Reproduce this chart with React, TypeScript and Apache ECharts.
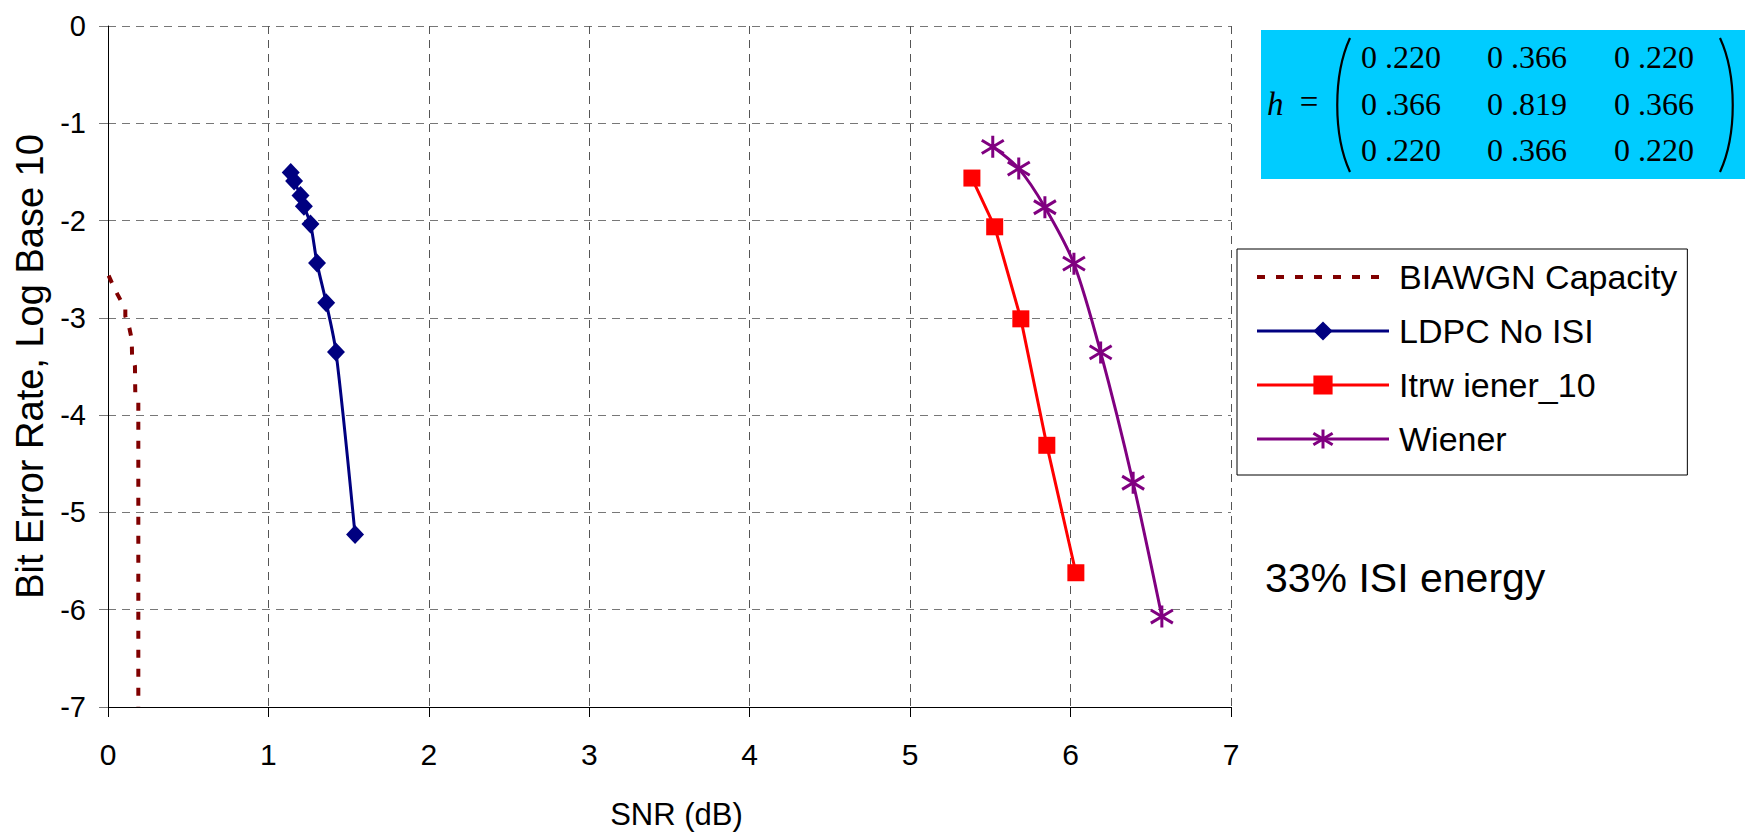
import React, { useEffect, useRef } from 'react';
import * as echarts from 'echarts';

// ---- data (SNR in dB, BER as log10) ----
const capacitySnr = [0.004, 0.029, 0.06, 0.087, 0.108, 0.108, 0.133, 0.148, 0.15, 0.168, 0.17, 0.189, 0.189];
const capacityBer = [-2.566, -2.658, -2.761, -2.846, -2.897, -2.983, -3.103, -3.222, -3.393, -3.496, -3.769, -3.872, -7];

const ldpcSnr = [1.139, 1.16, 1.2, 1.221, 1.262, 1.303, 1.36, 1.421, 1.54];
const ldpcBer = [-1.507, -1.594, -1.742, -1.852, -2.034, -2.437, -2.844, -3.35, -5.228];

const itrSnr = [5.385, 5.527, 5.69, 5.852, 6.033];
const itrBer = [-1.563, -2.064, -3.01, -4.31, -5.62];

const wienerSnr = [5.515, 5.677, 5.84, 6.021, 6.1875, 6.39, 6.569];
const wienerBer = [-1.242, -1.466, -1.863, -2.443, -3.355, -4.695, -6.07];

const seriesNames = ['BIAWGN Capacity', 'LDPC No ISI', 'Itrw iener_10', 'Wiener'];
const xTicks = { min: 0, max: 7, interval: 1 };
const yTicks = { min: -7, max: 0, interval: 1 };

const matrixRows = [
  ['0 .220', '0 .366', '0 .220'],
  ['0 .366', '0 .819', '0 .366'],
  ['0 .220', '0 .366', '0 .220'],
];
const noteText = '33% ISI energy';
const xTitle = 'SNR (dB)';
const yTitle = 'Bit Error Rate, Log Base 10';

const zip = (xs: number[], ys: number[]) => xs.map((x, i) => [x, ys[i]]);

const SANS = "'Liberation Sans', Arial, sans-serif";
const SERIF = "'Liberation Serif', 'Times New Roman', serif";
const STAR = 'path://M10,0L10,20M1,4L19,16M1,16L19,4';

export default function App() {
  const ref = useRef<HTMLDivElement>(null);
  useEffect(() => {
    if (!ref.current) return;
    const chart = echarts.init(ref.current, undefined, { renderer: 'svg' });

    const colX = [1401, 1527, 1654];
    const rowY = [57, 104, 150];
    const matrixTexts: any[] = [];
    matrixRows.forEach((row, r) =>
      row.forEach((t, c) =>
        matrixTexts.push({
          type: 'text',
          x: colX[c],
          y: rowY[r],
          z: 20,
          style: { text: t, font: `32px ${SERIF}`, fill: '#000', textAlign: 'center', textVerticalAlign: 'middle' },
        })
      )
    );

    chart.setOption({
      animation: false,
      backgroundColor: '#fff',
      textStyle: { fontFamily: SANS },
      grid: { left: 108, top: 26, right: 519, bottom: 131, containLabel: false },
      legend: {
        orient: 'vertical',
        left: 1237,
        top: 249,
        padding: [11, 10, 19, 18],
        itemWidth: 132,
        itemHeight: 24,
        itemGap: 20,
        borderColor: '#000',
        borderWidth: 1,
        backgroundColor: '#fff',
        lineStyle: { width: 3 },
        textStyle: { fontSize: 34, color: '#000', fontFamily: SANS, padding: [0, 0, 0, 5] },
        data: [
          {
            name: seriesNames[0],
            itemStyle: { color: 'rgba(0,0,0,0)', borderColor: 'rgba(0,0,0,0)', borderWidth: 0 },
            lineStyle: { width: 4 },
          },
          { name: seriesNames[1] },
          { name: seriesNames[2] },
          { name: seriesNames[3], itemStyle: { borderWidth: 3, borderColor: '#800080' } },
        ],
      },
      xAxis: {
        type: 'value',
        min: xTicks.min,
        max: xTicks.max,
        interval: xTicks.interval,
        name: xTitle,
        nameLocation: 'middle',
        nameGap: 92,
        nameTextStyle: { fontSize: 31, color: '#000', fontFamily: SANS, padding: [0, 0, 0, 14] },
        axisLine: { show: true, onZero: false, lineStyle: { color: '#000', width: 1 } },
        axisTick: { show: true, inside: false, length: 10, lineStyle: { color: '#000' } },
        axisLabel: { fontSize: 30, color: '#000', margin: 32, fontFamily: SANS },
        splitLine: { show: true, lineStyle: { color: '#555', type: [8, 6], width: 1 } },
      },
      yAxis: {
        type: 'value',
        min: yTicks.min,
        max: yTicks.max,
        interval: yTicks.interval,
        name: yTitle,
        nameLocation: 'middle',
        nameGap: 54,
        nameTextStyle: { fontSize: 38, color: '#000', fontFamily: SANS },
        axisLine: { show: true, onZero: false, lineStyle: { color: '#000', width: 1 } },
        axisTick: { show: true, inside: false, length: 9, lineStyle: { color: '#777' } },
        axisLabel: { fontSize: 29, color: '#000', margin: 22, fontFamily: SANS },
        splitLine: { show: true, lineStyle: { color: '#777', type: [8, 6], width: 1 } },
      },
      series: [
        {
          name: seriesNames[0],
          type: 'line',
          data: zip(capacitySnr, capacityBer),
          symbol: 'none',
          showSymbol: false,
          lineStyle: { color: '#800000', width: 4, type: [8, 11] },
          itemStyle: { color: '#800000' },
          z: 3,
        },
        {
          name: seriesNames[1],
          type: 'line',
          data: zip(ldpcSnr, ldpcBer),
          smooth: 0.3,
          symbol: 'diamond',
          symbolSize: [18, 19],
          lineStyle: { color: '#000080', width: 3 },
          itemStyle: { color: '#000080' },
          z: 4,
        },
        {
          name: seriesNames[2],
          type: 'line',
          data: zip(itrSnr, itrBer),
          symbol: 'rect',
          symbolSize: 17,
          lineStyle: { color: '#FF0000', width: 3 },
          itemStyle: { color: '#FF0000' },
          z: 5,
        },
        {
          name: seriesNames[3],
          type: 'line',
          data: zip(wienerSnr, wienerBer),
          smooth: 0.3,
          symbol: STAR,
          symbolSize: 22,
          lineStyle: { color: '#800080', width: 3 },
          itemStyle: { color: '#800080', borderColor: '#800080', borderWidth: 3 },
          z: 6,
        },
      ],
      graphic: [
        {
          type: 'rect',
          z: 10,
          shape: { x: 1261, y: 30, width: 484, height: 149 },
          style: { fill: '#00CCFF' },
        },
        {
          type: 'text',
          x: 1267,
          y: 104,
          z: 20,
          style: { text: 'h', font: `italic 33px ${SERIF}`, fill: '#000', textAlign: 'left', textVerticalAlign: 'middle' },
        },
        {
          type: 'text',
          x: 1309,
          y: 102,
          z: 20,
          style: { text: '=', font: `33px ${SERIF}`, fill: '#000', textAlign: 'center', textVerticalAlign: 'middle' },
        },
        {
          type: 'bezierCurve',
          z: 20,
          shape: { x1: 1350, y1: 38, cpx1: 1333, cpy1: 75, cpx2: 1333, cpy2: 135, x2: 1350, y2: 172 },
          style: { stroke: '#000', lineWidth: 2.2, fill: 'none' },
        },
        {
          type: 'bezierCurve',
          z: 20,
          shape: { x1: 1720, y1: 38, cpx1: 1737, cpy1: 75, cpx2: 1737, cpy2: 135, x2: 1720, y2: 172 },
          style: { stroke: '#000', lineWidth: 2.2, fill: 'none' },
        },
        ...matrixTexts,
        {
          type: 'text',
          x: 1265,
          y: 578,
          z: 20,
          style: { text: noteText, font: `41px ${SANS}`, fill: '#000', textAlign: 'left', textVerticalAlign: 'middle' },
        },
      ],
    });
    return () => chart.dispose();
  }, []);

  return (
    <div
      ref={ref}
      style={{ position: 'absolute', left: 0, top: 0, width: 1750, height: 838, background: '#fff' }}
    />
  );
}
